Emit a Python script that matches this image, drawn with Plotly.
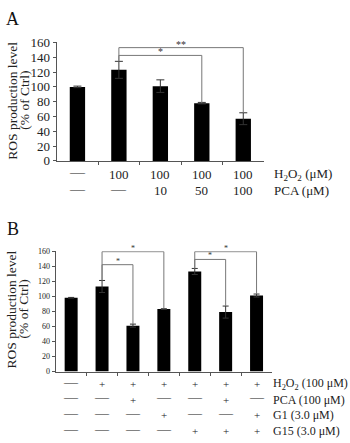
import plotly.graph_objects as go

W, H = 350, 443
SERIF = "Liberation Serif, Times New Roman, serif"

# ---------------- data ----------------
a_values = [100, 123, 101, 78, 57]
a_errors = [1, 11.5, 8.5, 1, 8]
a_h2o2 = ["—", "100", "100", "100", "100"]
a_pca = ["—", "—", "10", "50", "100"]
a_row_names = ["H<sub>2</sub>O<sub>2</sub> (μM)", "PCA (μM)"]
a_yticks = [0, 20, 40, 60, 80, 100, 120, 140, 160]

b_values = [98, 113, 61, 83, 133, 79, 101]
b_errors = [0.5, 8, 2, 0.5, 4, 8, 2]
b_h2o2 = ["—", "+", "+", "+", "+", "+", "+"]
b_pca = ["—", "—", "+", "—", "—", "+", "—"]
b_g1 = ["—", "—", "—", "+", "—", "—", "+"]
b_g15 = ["—", "—", "—", "—", "+", "+", "+"]
b_row_names = ["H<sub>2</sub>O<sub>2</sub> (100 μM)", "PCA (100 μM)", "G1 (3.0 μM)", "G15 (3.0 μM)"]
b_yticks = [0, 20, 40, 60, 80, 100, 120, 140, 160]

# brackets: (x_left, x_right, y_top, y_left_bottom, y_right_bottom, label)
a_brackets = [(1, 3, 142.5, 134.5, 78, "*"), (1, 4, 153, 134.5, 65, "**")]
b_brackets = [(1, 3, 159.3, 121, 83.5, "*"), (1, 2, 142, 121, 63, "*"),
              (4, 6, 159.3, 137, 103, "*"), (4, 5, 149, 137, 87, "*")]
b_extra_star = [(4, 161, "*")]


def px_x(p):
    return p / W


def px_y(p):
    return 1 - p / H


fig = go.Figure()

fig.add_trace(go.Bar(x=list(range(len(a_values))), y=a_values, width=0.37,
                     marker=dict(color="black", line=dict(width=0)),
                     error_y=dict(type="data", array=a_errors, visible=True,
                                  color="#333", thickness=1, width=4),
                     xaxis="x", yaxis="y", showlegend=False))
fig.add_trace(go.Bar(x=list(range(len(b_values))), y=b_values, width=0.42,
                     marker=dict(color="black", line=dict(width=0)),
                     error_y=dict(type="data", array=b_errors, visible=True,
                                  color="#333", thickness=1, width=3),
                     xaxis="x2", yaxis="y2", showlegend=False))

axis_common = dict(showgrid=False, zeroline=False, showline=True, linecolor="#555",
                   linewidth=1, ticks="outside", tickcolor="#555", ticklen=3)

fig.update_layout(
    width=W, height=H, autosize=False,
    margin=dict(l=0, r=0, t=0, b=0),
    paper_bgcolor="white", plot_bgcolor="white",
    font=dict(family=SERIF, color="#222"),
    xaxis=dict(domain=[px_x(56.7), px_x(264)], range=[-0.5, len(a_values) - 0.5],
               tickvals=[i + 0.5 for i in range(len(a_values) - 1)], showticklabels=False,
               anchor="y", **axis_common),
    yaxis=dict(domain=[px_y(159.3), px_y(36.7)], range=[0, 160], tickvals=a_yticks,
               tickfont=dict(size=13, family=SERIF, color="#222"), anchor="x", **axis_common),
    xaxis2=dict(domain=[px_x(55.7), px_x(272)], range=[-0.5, len(b_values) - 0.5],
                tickvals=[i + 0.5 for i in range(len(b_values) - 1)], showticklabels=False,
                anchor="y2", **axis_common),
    yaxis2=dict(domain=[px_y(377.3), px_y(252.7)], range=[0, 160], tickvals=b_yticks,
                tickfont=dict(size=8, family=SERIF, color="#222"), anchor="x2", **axis_common),
)

shapes = []
ann = []


def add_brackets(brs, xref, yref, star_size, star_dy):
    for (xl, xr, yt, ylb, yrb, lab) in brs:
        shapes.append(dict(type="path", xref=xref, yref=yref,
                           path=f"M {xl},{ylb} L {xl},{yt} L {xr},{yt} L {xr},{yrb}",
                           line=dict(color="#777", width=1)))
        ann.append(dict(x=(xl + xr) / 2, y=yt, xref=xref, yref=yref, text=lab,
                        showarrow=False, yanchor="bottom", yshift=star_dy,
                        font=dict(size=star_size, family=SERIF, color="#333")))


add_brackets(a_brackets, "x", "y", 10, -4)
add_brackets(b_brackets, "x2", "y2", 8, -3)
for (xs, ys, lab) in b_extra_star:
    ann.append(dict(x=xs, y=ys, xref="x2", yref="y2", text=lab, showarrow=False,
                    yanchor="bottom", yshift=-3, font=dict(size=8, family=SERIF, color="#333")))


def cell(t, x, ypx, xref, num_size, plus_size, dash_size):
    if t == "—":
        size, shift = dash_size, 2
    elif t == "+":
        size, shift = plus_size, 0
    else:
        size, shift = num_size, 0
    return dict(x=x, y=px_y(ypx), xref=xref, yref="paper", text=t, showarrow=False,
                yanchor="middle", yshift=shift,
                font=dict(size=size, family=SERIF, color="#222"))


# condition rows, panel A
a_row_y = [173.3, 190]
for row, ypx in zip([a_h2o2, a_pca], a_row_y):
    for i, t in enumerate(row):
        ann.append(cell(t, i, ypx, "x", 13, 12, 15))
for name, ypx in zip(a_row_names, a_row_y):
    ann.append(dict(x=px_x(272), y=px_y(ypx), xref="paper", yref="paper", text=name,
                    showarrow=False, xanchor="left", yanchor="middle",
                    font=dict(size=13, family=SERIF, color="#222")))

# condition rows, panel B
b_rows = [b_h2o2, b_pca, b_g1, b_g15]
b_row_y = [390.7, 406.3, 422.7, 439.3]
for row, ypx in zip(b_rows, b_row_y):
    for i, t in enumerate(row):
        ann.append(cell(t, i, ypx, "x2", 12, 11, 14))
for name, ypx in zip(b_row_names, b_row_y):
    ann.append(dict(x=px_x(271), y=px_y(ypx), xref="paper", yref="paper", text=name,
                    showarrow=False, xanchor="left", yanchor="middle",
                    font=dict(size=12, family=SERIF, color="#222")))

# y-axis titles (two lines each, placed separately)
for (x1, x2, cy) in [(13, 25, 97), (11, 23, 313)]:
    ann.append(dict(x=px_x(x1), y=px_y(cy), xref="paper", yref="paper",
                    text="ROS production level", textangle=-90,
                    showarrow=False, xanchor="center", yanchor="middle",
                    font=dict(size=13.5, family=SERIF, color="#222")))
    ann.append(dict(x=px_x(x2), y=px_y(cy), xref="paper", yref="paper",
                    text="(% of Ctrl)", textangle=-90,
                    showarrow=False, xanchor="center", yanchor="middle",
                    font=dict(size=13.5, family=SERIF, color="#222")))

# panel letters
ann.append(dict(x=px_x(4), y=px_y(12), xref="paper", yref="paper", text="A", showarrow=False,
                xanchor="left", yanchor="middle", font=dict(size=18, family=SERIF, color="#111")))
ann.append(dict(x=px_x(5), y=px_y(230), xref="paper", yref="paper", text="B", showarrow=False,
                xanchor="left", yanchor="middle", font=dict(size=18, family=SERIF, color="#111")))

fig.update_layout(shapes=shapes, annotations=ann)
fig.write_html("out.html")
